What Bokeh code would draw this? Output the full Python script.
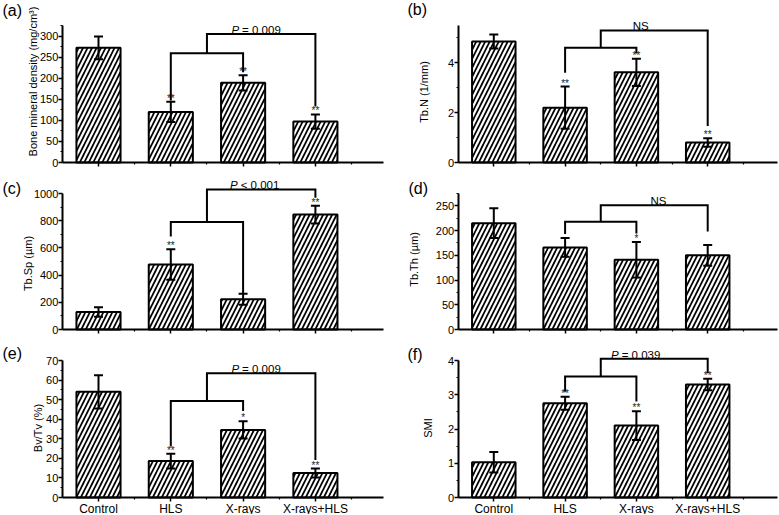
import math
from bokeh.plotting import figure
from bokeh.models import Range1d, FixedTicker, Label, ColumnDataSource, Whisker, TeeHead
from bokeh.layouts import gridplot
from bokeh.embed import file_html
from bokeh.resources import INLINE
from bokeh.core.properties import value

# ---------------- data ----------------
groups = ["Control", "HLS", "X-rays", "X-rays+HLS"]
xpos = [1, 2, 3, 4]

bmd_mean = [272, 120, 189, 97]
bmd_err = [27, 24, 18, 17]
bmd_stars = ["", "**", "**", "**"]
bmd_ticks = [0, 50, 100, 150, 200, 250, 300]
bmd_top = 325
# inner top, inner left foot, inner right foot, outer top, outer right foot
bmd_brk = [259, 147, 214, 305, 133]
bmd_note = "P = 0.009"
bmd_note_x = 3.18

tbn_mean = [4.86, 2.20, 3.62, 0.80]
tbn_err = [0.28, 0.85, 0.55, 0.17]
tbn_stars = ["", "**", "**", "**"]
tbn_ticks = [0, 2, 4]
tbn_top = 5.5
tbn_brk = [4.61, 3.60, 4.38, 5.30, 1.47]
tbn_note = "NS"
tbn_note_x = 3.06

tbsp_mean = [128, 478, 222, 845]
tbsp_err = [35, 112, 40, 65]
tbsp_stars = ["", "**", "", "**"]
tbsp_ticks = [0, 200, 400, 600, 800, 1000]
tbsp_top = 1000
tbsp_brk = [790, 684, 264, 1030, 968]
tbsp_note = "P < 0.001"
tbsp_note_x = 3.16

tbth_mean = [215, 166, 141, 150]
tbth_err = [30, 19, 36, 21]
tbth_stars = ["", "", "*", ""]
tbth_ticks = [0, 50, 100, 150, 200, 250]
tbth_top = 275
tbth_brk = [218, 193, 194, 251, 198]
tbth_note = "NS"
tbth_note_x = 3.31

bvtv_mean = [54.0, 18.6, 34.5, 12.5]
bvtv_err = [8.5, 3.8, 4.4, 2.3]
bvtv_stars = ["", "**", "*", "**"]
bvtv_ticks = [0, 10, 20, 30, 40, 50, 60, 70]
bvtv_top = 70
bvtv_brk = [49.3, 26.0, 44.2, 63.5, 19.1]
bvtv_note = "P = 0.009"
bvtv_note_x = 3.18

smi_mean = [1.03, 2.75, 2.10, 3.30]
smi_err = [0.30, 0.19, 0.42, 0.17]
smi_stars = ["", "**", "**", "**"]
smi_ticks = [0, 1, 2, 3, 4]
smi_top = 4
smi_brk = [3.53, 3.09, 2.80, 4.05, 3.63]
smi_note = "P = 0.039"
smi_note_x = 2.99

# ---------------- layout (page pixels) ----------------
FONT = "Liberation Sans"
ROWS = [dict(top=0, bot=170, ytop=25, y0=162),
        dict(top=170, bot=337, ytop=193, y0=329),
        dict(top=337, bot=514, ytop=360, y0=497)]
COLS = [dict(left=0, right=390, c1=98.0, step=72.3, xend=383),
        dict(left=390, right=778, c1=493.3, step=71.3, xend=777)]


def minor_of(ticks, top):
    d = ticks[1] - ticks[0]
    out = []
    v = ticks[0] + d / 2.0
    while v <= top + 1e-9:
        out.append(v)
        v += d
    return out


def make_panel(mean, err, stars, ticks, top, brk, note, note_x, ylabel, ylab_pos,
               letter, letter_pos, row, col):
    c = COLS[col]
    r = ROWS[row]
    k = (r["y0"] - r["ytop"]) / top          # pixels per y unit
    s = 1.0 / k                              # y units per pixel

    def X(px):
        return 1 + (px - c["c1"]) / c["step"]

    def Y(py):
        return (r["y0"] - py) / k

    p = figure(frame_width=c["right"] - c["left"], frame_height=r["bot"] - r["top"],
               x_range=Range1d(X(c["left"]), X(c["right"])),
               y_range=Range1d(Y(r["bot"]), Y(r["top"])),
               output_backend="svg", toolbar_location=None,
               min_border_left=0, min_border_right=0,
               min_border_top=0, min_border_bottom=0)
    p.outline_line_color = None
    p.xgrid.visible = False
    p.ygrid.visible = False
    p.background_fill_color = "white"
    p.border_fill_color = "white"

    src = ColumnDataSource(dict(
        x=xpos, top=mean,
        upper=[m + e for m, e in zip(mean, err)],
        lower=[m - e for m, e in zip(mean, err)],
        star=stars,
        stary=[m + e + 3.5 * s for m, e in zip(mean, err)],
    ))
    p.vbar(x="x", top="top", width=0.61, source=src, fill_color="white",
           line_color="black", line_width=2, hatch_pattern="/",
           hatch_scale=9, hatch_weight=1.7, hatch_color="black")
    p.add_layout(Whisker(base="x", upper="upper", lower="lower", source=src,
                         level="annotation", line_width=2, line_color="black",
                         upper_head=TeeHead(size=9, line_width=2, line_color="black"),
                         lower_head=TeeHead(size=9, line_width=2, line_color="black")))
    p.text(x="x", y="stary", text="star", source=src, text_align="center",
           text_baseline="middle", text_font=value(FONT),
           text_font_size="10px", text_color="#222222")

    itop, ilf, irf, otop, orf = brk
    mid = (xpos[1] + xpos[2]) / 2
    p.multi_line(xs=[[xpos[1], xpos[1], xpos[2], xpos[2]], [mid, mid, xpos[3], xpos[3]]],
                 ys=[[ilf, itop, itop, irf], [itop, otop, otop, orf]],
                 line_color="black", line_width=2, line_join="miter")

    ym = otop + 4 * s
    if note.startswith("P"):
        p.add_layout(Label(x=note_x, y=ym, x_offset=-17, text="P", text_align="right",
                           text_baseline="middle", text_font=FONT,
                           text_font_style="italic", text_font_size="11.5px",
                           text_color="black"))
        p.add_layout(Label(x=note_x, y=ym, x_offset=-14, text=note[1:].strip(),
                           text_align="left", text_baseline="middle",
                           text_font=FONT, text_font_size="11.5px", text_color="black"))
    else:
        p.add_layout(Label(x=note_x, y=ym, text=note, text_align="center",
                           text_baseline="middle", text_font=FONT,
                           text_font_size="11.5px", text_color="black"))

    # panel letter and y-axis title
    p.add_layout(Label(x=X(letter_pos[0]), y=Y(letter_pos[1]), text=letter,
                       text_align="left", text_baseline="middle", text_font=FONT,
                       text_font_size="16px", text_color="black"))
    p.add_layout(Label(x=X(ylab_pos[0]), y=Y(ylab_pos[1]), text=ylabel, angle=math.pi / 2,
                       text_align="center", text_baseline="middle", text_font=FONT,
                       text_font_size="11px", text_color="black"))

    xa = p.xaxis[0]
    ya = p.yaxis[0]
    xa.fixed_location = 0
    xa.ticker = FixedTicker(ticks=xpos, minor_ticks=[x + 0.5 for x in xpos])
    xa.bounds = (0.5, X(c["xend"]))
    xa.major_label_standoff = 0
    if row == 2:
        xa.major_label_overrides = {x: g for x, g in zip(xpos, groups)}
        xa.major_label_text_font_size = "12px"
    else:
        xa.major_label_overrides = {x: "" for x in xpos}
        xa.major_label_text_font_size = "0px"
    ya.fixed_location = 0.5
    ya.ticker = FixedTicker(ticks=ticks, minor_ticks=minor_of(ticks, top))
    ya.bounds = (0, top)
    ya.major_label_text_font_size = "11px"
    ya.major_label_standoff = 0
    for ax in (xa, ya):
        ax.axis_line_width = 2
        ax.axis_line_color = "black"
        ax.major_tick_line_width = 1.5
        ax.minor_tick_line_width = 1.2
        ax.major_tick_line_color = "black"
        ax.minor_tick_line_color = "black"
        ax.major_tick_out = 4
        ax.major_tick_in = 0
        ax.minor_tick_out = 2
        ax.minor_tick_in = 0
        ax.major_label_text_font = FONT
        ax.major_label_text_color = "black"
    return p


pa = make_panel(bmd_mean, bmd_err, bmd_stars, bmd_ticks, bmd_top, bmd_brk, bmd_note,
                bmd_note_x, "Bone mineral density (mg/cm³)", (32, 81), "(a)", (2, 9.5), 0, 0)
pb = make_panel(tbn_mean, tbn_err, tbn_stars, tbn_ticks, tbn_top, tbn_brk, tbn_note,
                tbn_note_x, "Tb.N (1/mm)", (423, 91.5), "(b)", (407, 8.5), 0, 1)
pc = make_panel(tbsp_mean, tbsp_err, tbsp_stars, tbsp_ticks, tbsp_top, tbsp_brk, tbsp_note,
                tbsp_note_x, "Tb.Sp (µm)", (27.5, 263), "(c)", (2, 187.5), 1, 0)
pd = make_panel(tbth_mean, tbth_err, tbth_stars, tbth_ticks, tbth_top, tbth_brk, tbth_note,
                tbth_note_x, "Tb.Th (µm)", (413, 259), "(d)", (408, 187.5), 1, 1)
pe = make_panel(bvtv_mean, bvtv_err, bvtv_stars, bvtv_ticks, bvtv_top, bvtv_brk, bvtv_note,
                bvtv_note_x, "Bv/Tv (%)", (37, 427.5), "(e)", (2, 353), 2, 0)
pf = make_panel(smi_mean, smi_err, smi_stars, smi_ticks, smi_top, smi_brk, smi_note,
                smi_note_x, "SMI", (427, 427.5), "(f)", (407, 353.5), 2, 1)

grid = gridplot([[pa, pb], [pc, pd], [pe, pf]], toolbar_location=None)
open("out.html", "w").write(file_html(grid, INLINE))
